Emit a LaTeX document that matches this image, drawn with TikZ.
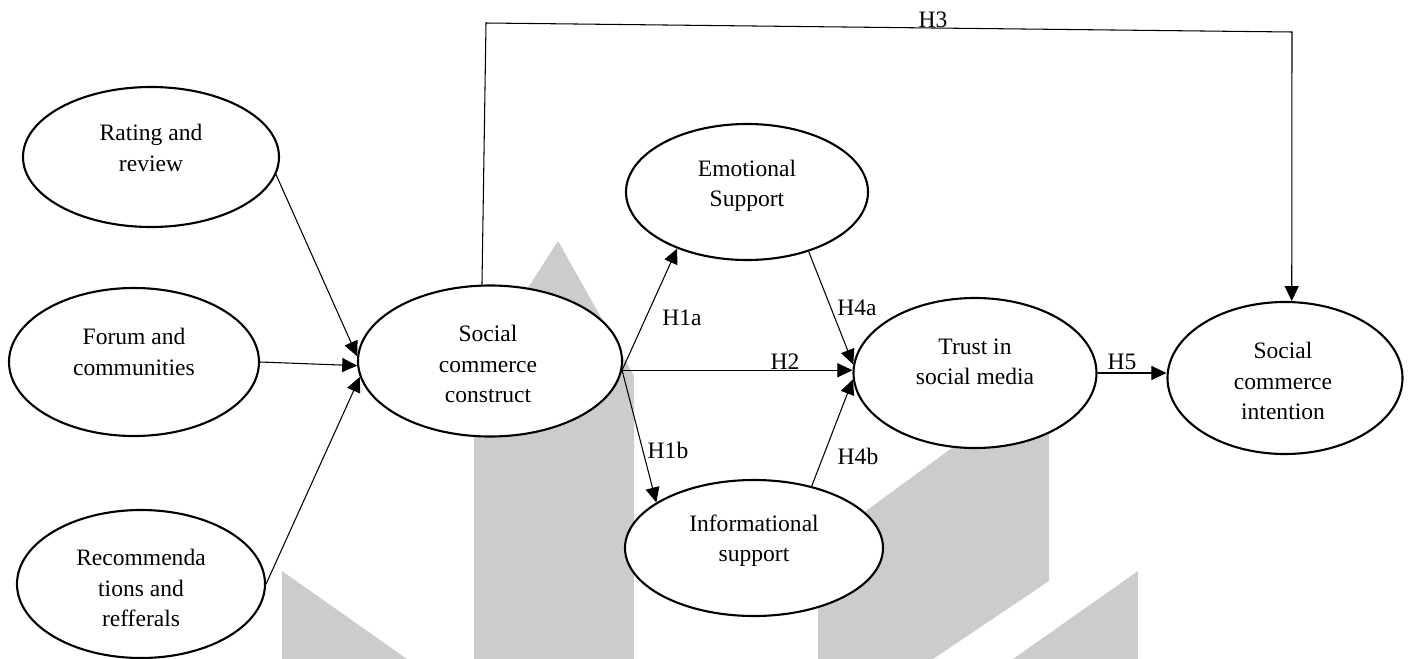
\documentclass[tikz,border=0pt]{standalone}
\usepackage{fontspec}
\setmainfont{Liberation Serif}
\usepackage{tikz}
\usetikzlibrary{shapes.geometric,arrows.meta}
\newlength{\pxu}
\setlength{\pxu}{0.02cm}
\newcommand{\boxfont}{\fontsize{13.4pt}{17.2pt}\selectfont}
\tikzset{
  bubble/.style={ellipse,draw,line width=1.2pt,fill=white,inner sep=0pt},
  bubbletext/.style={align=center,inner sep=0pt,font=\boxfont},
  hyp/.style={inner sep=0pt,font=\boxfont},
  link/.style={line width=0.6pt,-{Triangle[length=0.3cm,width=0.28cm]}},
  wmark/.style={fill=black!20,draw=none}
}

\begin{document}
\begin{tikzpicture}[x=0.02cm,y=-0.02cm]
    \useasboundingbox (0,0) rectangle (1410,659);
    \fill[wmark] (282,571) -- (407,659) -- (282,659) -- cycle;
    \fill[wmark] (474,372) -- (558,241) -- (634,376) -- (634,659) -- (474,659) -- cycle;
    \fill[wmark] (818,546) -- (1049,377) -- (1049,581) -- (933,659) -- (818,659) -- cycle;
    \fill[wmark] (1013,659) -- (1138,571) -- (1138,659) -- cycle;
    \node[bubble,minimum width=256\pxu,minimum height=140\pxu,label={[bubbletext,yshift=9\pxu]center:Rating and\\review}] (rate) at (151,157) {};
    \node[bubble,minimum width=250\pxu,minimum height=148\pxu,label={[bubbletext,yshift=10\pxu]center:Forum and\\communities}] (forum) at (134,362) {};
    \node[bubble,minimum width=248\pxu,minimum height=148\pxu,label={[bubbletext,yshift=-4\pxu]center:Recommenda\\tions and\\refferals}] (recom) at (141,584) {};
    \node[bubble,minimum width=264\pxu,minimum height=151\pxu,label={[bubbletext,xshift=-2\pxu,yshift=-3\pxu]center:Social\\commerce\\construct}] (soc) at (490,361) {};
    \node[bubble,minimum width=242\pxu,minimum height=136\pxu,label={[bubbletext,yshift=6\pxu]center:Emotional\\Support}] (emo) at (747,192) {};
    \node[bubble,minimum width=258\pxu,minimum height=136\pxu,label={[bubbletext,yshift=7\pxu]center:Informational\\support}] (info) at (754,548) {};
    \node[bubble,minimum width=243\pxu,minimum height=150\pxu,label={[bubbletext,yshift=11\pxu]center:Trust in\\social media}] (trust) at (975,373) {};
    \node[bubble,minimum width=235\pxu,minimum height=152\pxu,label={[bubbletext,xshift=-2\pxu,yshift=-3\pxu]center:Social\\commerce\\intention}] (int) at (1285,378) {};
    \coordinate (h3l) at (486,23);
    \coordinate (h3r) at (1292,32);
    \draw[link] (rate.352) -- (soc.178);
    \draw[link] (forum.east) -- (soc.182);
    \draw[link] (recom.east) -- (soc.187);
    \draw[link] (soc.356) -- (emo.219);
    \draw[link] (soc.356) -- (info.155);
    \draw[link] (soc.356) -- (soc.356 -| trust.west);
    \draw[link] (emo.316) -- (trust.176);
    \draw[link] (info.47) -- (trust.183);
    \draw[link] (trust.east) -- (trust.east -| int.west);
    \draw[link] (soc.96) -- (h3l) -- (h3r) -- (int.85);
    \node[hyp] (h1a) at (682,318) {H1a};
    \node[hyp] (h1b) at (668,450) {H1b};
    \node[hyp] (h2) at (785,362) {H2};
    \node[hyp] (h3) at (933,20) {H3};
    \node[hyp] (h4a) at (857,308) {H4a};
    \node[hyp] (h4b) at (858,456) {H4b};
    \node[hyp] (h5) at (1122,362) {H5};
\end{tikzpicture}
\end{document}
